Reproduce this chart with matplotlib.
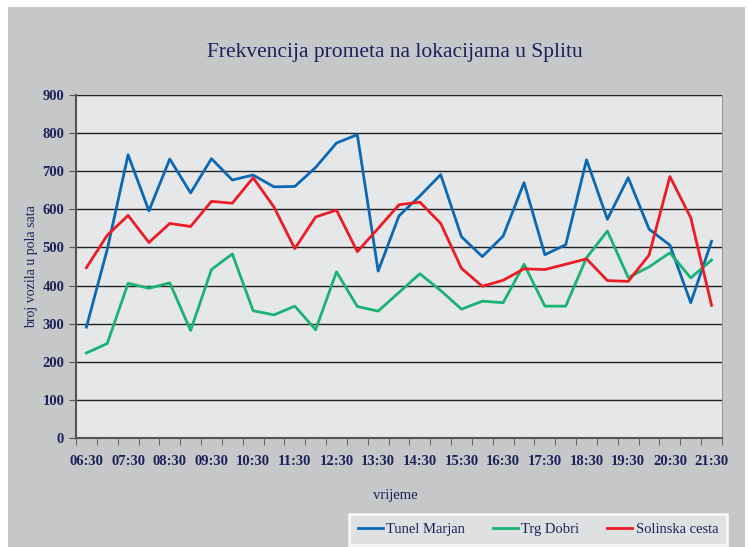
import matplotlib
matplotlib.use('Agg')
import matplotlib.pyplot as plt
from matplotlib.patches import Rectangle

# half-hour samples 06:30 .. 21:30
times = ['%02d:%02d' % (6 + (30 + 30 * i) // 60, (30 + 30 * i) % 60) for i in range(31)]
tunel_marjan = [291, 495, 743, 596, 732, 643, 733, 677, 690, 659,
                660, 710, 774, 796, 438, 583, 635, 691, 528, 476,
                530, 670, 481, 507, 730, 574, 683, 548, 506, 355, 516]
trg_dobri = [223, 248, 406, 393, 407, 282, 442, 483, 334, 323,
             346, 284, 436, 345, 333, 382, 431, 387, 338, 359,
             355, 456, 346, 346, 473, 543, 421, 449, 486, 420, 467]
solinska_cesta = [447, 532, 584, 513, 563, 555, 621, 616, 683, 606,
                  497, 580, 598, 489, 550, 612, 619, 563, 445, 398,
                  414, 444, 442, 456, 470, 413, 411, 480, 686, 578, 348]

navy = '#1c2259'
plt.rcParams['font.family'] = ['Liberation Serif', 'DejaVu Serif']

fig = plt.figure(figsize=(7.5, 5.47), dpi=100, facecolor='white')
fig.patches.append(Rectangle((8 / 750, 0), 737 / 750, 540 / 547, transform=fig.transFigure,
                             facecolor='#c6c7c9', edgecolor='none', zorder=-10))
ax = fig.add_axes([76 / 750, 109 / 547, 646 / 750, 343 / 547])
ax.set_facecolor('#e6e7e9')

x = list(range(len(times)))
ax.plot(x, tunel_marjan, color='#0a68b4', lw=2, label='Tunel Marjan')
ax.plot(x, trg_dobri, color='#19b374', lw=2, label='Trg Dobri')
ax.plot(x, solinska_cesta, color='#ec1c24', lw=2, label='Solinska cesta')

ax.set_ylim(0, 900)
ax.set_xlim(-0.5, 30.5)
ax.set_yticks(range(0, 901, 100))
ax.yaxis.grid(True, color='#222222', lw=1)
ax.set_axisbelow(True)
ax.set_xticks(x[::2])
ax.set_xticklabels(times[::2])
ax.set_xticks([i - 0.5 for i in range(32)], minor=True)
ax.tick_params(axis='x', which='major', length=0, pad=12, labelsize=10.5, labelcolor=navy)
ax.tick_params(axis='x', which='minor', length=5, direction='out', color='#555555')
ax.tick_params(axis='y', length=5, direction='out', color='#555555', labelsize=10.5, labelcolor=navy)
for t in ax.get_xticklabels() + ax.get_yticklabels():
    t.set_fontweight('bold')

for s in ['left', 'bottom']:
    ax.spines[s].set_color('#555555')
    ax.spines[s].set_linewidth(1.5)
ax.spines['top'].set_visible(False)
ax.spines['right'].set_color('#9a9a9a')

ax.set_ylabel('broj vozila u pola sata', color=navy, fontsize=10)
ax.yaxis.set_label_coords(-38 / 646, 0.5)
fig.text(395 / 750, 1 - 495 / 547, 'vrijeme', ha='center', va='center', color=navy, fontsize=10.5)
fig.text(395 / 750, 1 - 52 / 547, 'Frekvencija prometa na lokacijama u Splitu',
         ha='center', va='center', color=navy, fontsize=15.5)

leg = fig.legend(loc='lower center', bbox_to_anchor=(538 / 750, -5 / 547), ncol=3,
                 frameon=True, fancybox=False, fontsize=10.5, handlelength=1.7,
                 handletextpad=0.25, columnspacing=1.9, borderpad=0.6)
leg.get_frame().set_facecolor('#e6e7e9')
leg.get_frame().set_edgecolor('white')
leg.get_frame().set_linewidth(2)
for t in leg.get_texts():
    t.set_color(navy)

fig.savefig('out.png', dpi=100, facecolor=fig.get_facecolor())
